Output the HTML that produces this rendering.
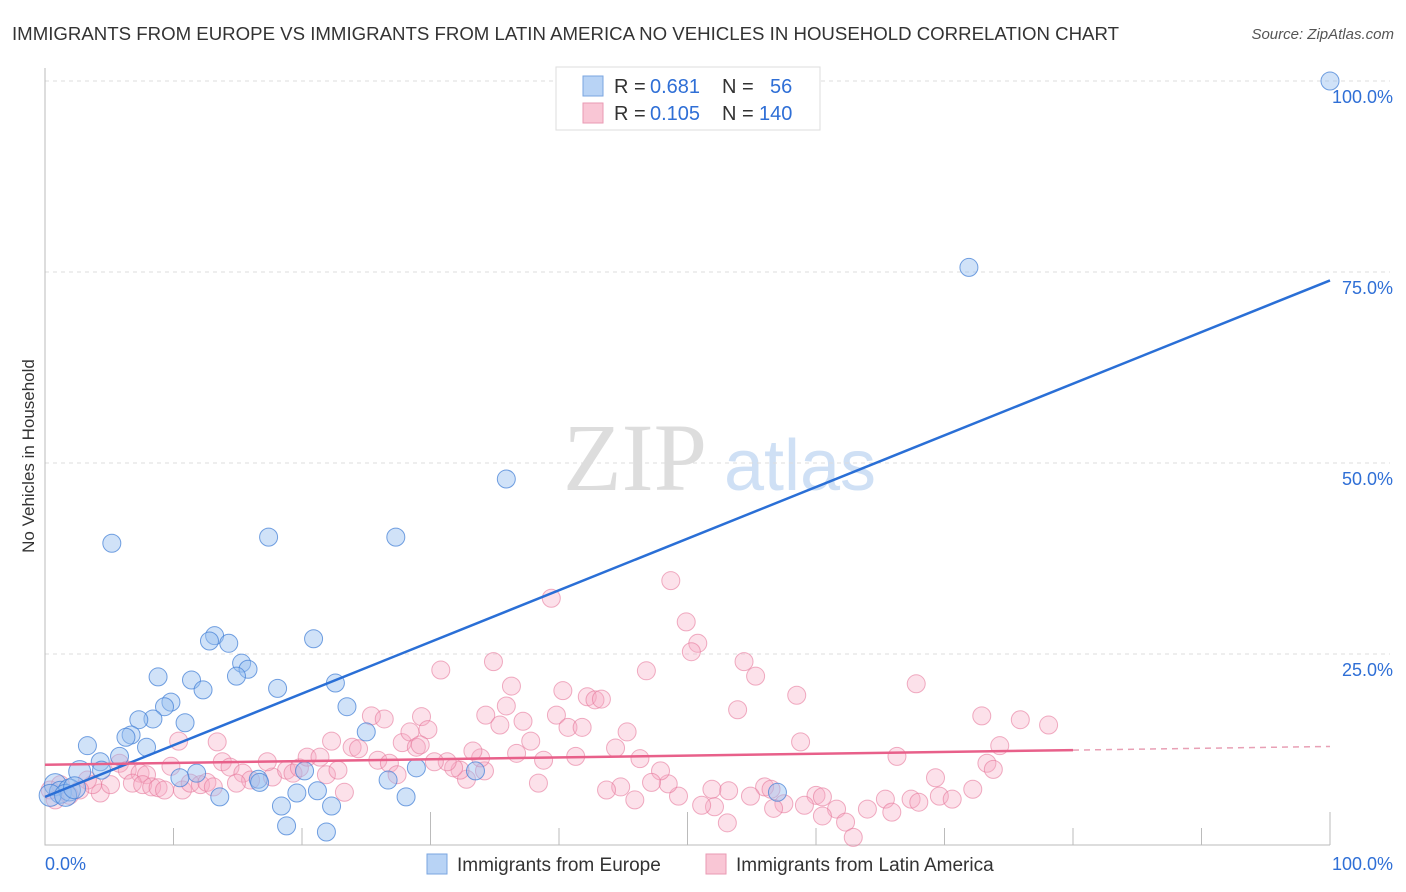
<!DOCTYPE html>
<html><head><meta charset="utf-8"><style>
body{margin:0;background:#fff;font-family:"Liberation Sans",sans-serif;}
svg{display:block}
</style></head><body>
<svg id="c" width="1406" height="892">
<text x="12" y="40" font-size="18" fill="#333" textLength="1107" lengthAdjust="spacingAndGlyphs">IMMIGRANTS FROM EUROPE VS IMMIGRANTS FROM LATIN AMERICA NO VEHICLES IN HOUSEHOLD CORRELATION CHART</text>
<text x="1394" y="39" font-size="15" fill="#555" font-style="italic" text-anchor="end">Source: ZipAtlas.com</text>
<text x="34" y="456" font-size="17" fill="#333" text-anchor="middle" transform="rotate(-90 34 456)">No Vehicles in Household</text>
<g><text x="635" y="490" font-size="96" fill="#ddd" text-anchor="middle" font-family="Liberation Serif">ZIP</text><text x="800" y="490" font-size="72" fill="#cfe0f5" text-anchor="middle">atlas</text></g>
<g id="grid"></g><g id="pts"></g><g id="lines"></g>
<g>
<rect x="556" y="67" width="264" height="63" fill="#fff" stroke="#ddd"/>
<rect x="583" y="76" width="20" height="20" fill="#b8d3f5" stroke="#7aa6e0"/>
<rect x="583" y="103" width="20" height="20" fill="#f9c6d5" stroke="#e99ab3"/>
<text x="614" y="93" font-size="20" fill="#333">R =</text><text x="650" y="93" font-size="20" fill="#2f6fd6">0.681</text><text x="722" y="93" font-size="20" fill="#333">N =</text><text x="770" y="93" font-size="20" fill="#2f6fd6">56</text>
<text x="614" y="120" font-size="20" fill="#333">R =</text><text x="650" y="120" font-size="20" fill="#2f6fd6">0.105</text><text x="722" y="120" font-size="20" fill="#333">N =</text><text x="759" y="120" font-size="20" fill="#2f6fd6">140</text>
</g>
<g>
<rect x="427" y="854" width="20" height="20" fill="#b8d3f5" stroke="#7aa6e0"/>
<text x="457" y="871" font-size="19" fill="#333">Immigrants from Europe</text>
<rect x="706" y="854" width="20" height="20" fill="#f9c6d5" stroke="#e99ab3"/>
<text x="736" y="871" font-size="19" fill="#333">Immigrants from Latin America</text>
</g>
</svg>
<script>
const yTicks=[25,50,75,100];
const yTickLabels=["25.0%","50.0%","75.0%","100.0%"];
const xTickLabels=["0.0%","100.0%"];
const blueX=[100,71.9,35.9,5.2,17.4,27.3,13.2,14.3,12.8,20.9,15.3,15.8,8.8,11.4,12.3,14.9,18.1,22.6,9.8,9.3,23.5,8.4,7.3,10.9,6.7,6.3,7.9,3.3,5.8,25.0,4.3,4.4,2.7,11.8,10.5,16.6,20.2,16.7,28.9,33.5,26.7,57.0,13.6,19.6,21.2,28.1,18.4,22.3,18.8,21.9,0.8,1.2,1.9,0.4,1.6,2.3];
const blueY=[100,75.6,47.9,39.5,40.3,40.3,27.4,26.4,26.7,27.0,23.8,23.0,22.0,21.6,20.3,22.1,20.5,21.2,18.7,18.1,18.1,16.5,16.4,16.0,14.4,14.1,12.8,13.0,11.6,14.8,10.9,9.8,9.6,9.4,8.8,8.6,9.7,8.2,10.1,9.7,8.5,6.9,6.3,6.8,7.1,6.3,5.1,5.1,2.5,1.7,7.9,6.9,7.2,6.5,6.5,7.5];
const pinkX=[30.8,10.4,13.4,22.3,23.9,24.4,25.4,26.4,27.8,28.4,28.9,29.3,29.8,9.8,13.8,14.4,5.8,6.4,7.4,7.9,6.8,7.6,8.3,8.8,9.3,10.7,11.3,12.1,12.6,13.1,4.3,3.7,3.3,17.7,18.8,19.3,19.8,20.4,21.4,21.9,22.8,23.3,17.3,25.9,26.8,27.4,15.4,16.0,14.9,48.7,49.9,50.8,50.3,39.4,54.4,55.3,58.5,67.8,53.9,34.9,36.3,35.9,34.3,35.4,37.2,37.8,36.7,38.8,38.4,40.3,42.2,42.8,43.3,39.8,40.7,41.8,45.3,46.8,44.4,46.3,58.8,72.9,75.9,78.1,74.3,66.3,73.3,73.8,69.3,72.2,69.6,70.6,67.4,68.0,65.4,65.9,64.0,61.6,62.3,62.9,60.0,60.5,60.5,59.1,57.5,56.7,56.0,56.5,54.9,53.2,51.9,52.1,51.1,53.1,49.3,48.5,47.9,47.2,45.9,44.8,43.7,41.3,34.2,33.9,33.3,32.8,32.3,31.8,31.3,30.3,29.2,0.4,1.2,1.9,2.7,5.1,0.8];
const pinkY=[22.9,13.6,13.5,13.6,12.8,12.6,16.9,16.5,13.4,14.8,12.8,16.8,15.1,10.3,10.9,10.2,10.7,9.8,9.4,9.2,8.1,7.9,7.6,7.5,7.2,7.2,8.1,7.9,8.2,7.6,6.8,7.9,8.5,8.9,9.8,9.4,10.1,11.5,11.5,9.2,9.8,6.9,10.9,11.1,10.7,9.2,9.4,8.5,8.1,34.6,29.2,26.4,25.3,32.3,24.0,22.1,19.6,21.1,17.7,24.0,20.8,18.2,17.0,15.7,16.2,13.6,12.0,11.1,8.1,20.2,19.4,19.0,19.1,17.0,15.4,15.4,14.8,22.8,12.7,11.3,13.5,16.9,16.4,15.7,13.0,11.6,10.7,9.9,8.8,7.3,6.4,6.0,6.0,5.6,6.0,4.3,4.7,4.7,3.0,1.0,6.5,6.3,3.8,5.2,5.4,4.8,7.6,7.3,6.4,7.1,7.3,5.0,5.2,2.9,6.4,8.0,9.7,8.2,5.9,7.6,7.2,11.6,9.7,11.4,12.3,8.6,9.8,10.1,10.9,10.9,13.1,7.2,7.9,6.5,7.2,7.9,5.9];
const blueFit=[6.3,73.9];
const pinkFit=[10.5,12.9];
const X=v=>45+v*12.85, Y=v=>845-v*7.64;
const NS="http://www.w3.org/2000/svg";
function mk(tag,attrs,parent){const e=document.createElementNS(NS,tag);for(const k in attrs)e.setAttribute(k,attrs[k]);parent.appendChild(e);return e;}
const grid=document.getElementById('grid');
yTicks.forEach((t,i)=>{
 const l=mk('line',{x1:45,x2:1390,y1:Y(t),y2:Y(t),stroke:'#ddd','stroke-dasharray':'4,4'},grid);
 
 
 const tx=mk('text',{x:1393,y:Y(t)+22,'font-size':18,fill:'#2f6fd6','text-anchor':'end'},grid);
 tx.textContent=yTickLabels[i];
 
 
});
const ax=mk('path',{d:'M45,68 V845 H1330',stroke:'#bbb',fill:'none'},grid);


for(let i=1;i<=10;i++){
 const tk=mk('line',{x1:X(i*10),x2:X(i*10),y1:(i%5==0||i==3)?812:828,y2:845,stroke:'#bbb'},grid);
 
 
}
[[0,'start',45],[1,'end',1393]].forEach(([i,a,x])=>{
 const tx=mk('text',{x:x,y:870,'font-size':18,fill:'#2f6fd6','text-anchor':a},grid);
 tx.textContent=xTickLabels[i];
 
 
});
const pts=document.getElementById('pts');
pinkX.forEach((x,i)=>{
 const c=mk('circle',{cx:X(x),cy:Y(pinkY[i]),r:9,fill:'rgba(246,170,195,0.35)',stroke:'rgba(230,120,155,0.6)','stroke-width':1},pts);
 
 
});
blueX.forEach((x,i)=>{
 const r=(x<3)?11:9;
 const c=mk('circle',{cx:X(x),cy:Y(blueY[i]),r:r,fill:'rgba(150,190,240,0.45)',stroke:'rgba(70,130,215,0.75)','stroke-width':1},pts);
 
 
});
const lines=document.getElementById('lines');
const bl=mk('line',{x1:X(0),y1:Y(blueFit[0]),x2:X(100),y2:Y(blueFit[1]),stroke:'#2a6fd6','stroke-width':2.5},lines);


const pe=(pinkFit[1]-pinkFit[0]);
const pl=mk('line',{x1:X(0),y1:Y(pinkFit[0]),x2:X(80),y2:Y(pinkFit[0]+pe*0.8),stroke:'#e8608a','stroke-width':2.5},lines);


const pd=mk('line',{x1:X(80),y1:Y(pinkFit[0]+pe*0.8),x2:X(100),y2:Y(pinkFit[1]),stroke:'#e8a0b5','stroke-width':1.5,'stroke-dasharray':'6,5'},lines);


</script>
</body></html>
